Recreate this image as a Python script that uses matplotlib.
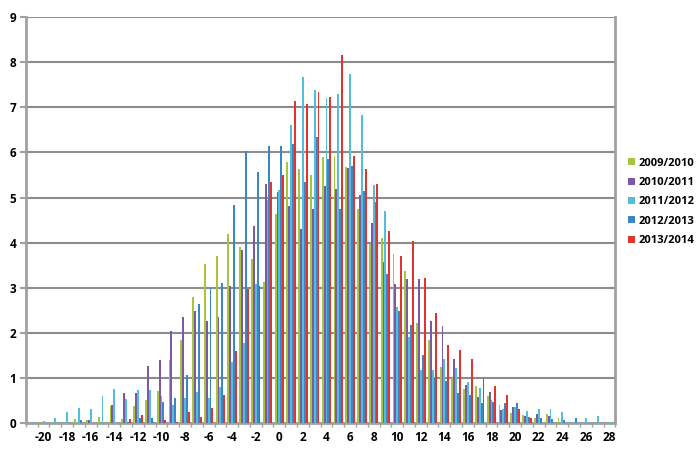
import matplotlib
matplotlib.use('Agg')
import matplotlib.pyplot as plt
import numpy as np

# categories -21 .. 28
cats = list(range(-21, 29))

# values, one list per season
s0910 = [0.0, 0.02, 0.02, 0.01, 0.08, 0.06, 0.14, 0.37, 0.08, 0.38, 0.51, 0.71, 1.4, 1.84, 2.79, 3.53,
         3.7, 4.18, 3.9, 3.64, 3.13, 4.63, 5.79, 5.64, 5.5, 5.9, 5.91, 5.68, 4.75, 3.96, 4.11, 3.74,
         3.36, 2.22, 1.83, 1.24, 0.99, 0.75, 0.81, 0.6, 0.41, 0.23, 0.18, 0.1, 0.21, 0.1, 0.0, 0.0, 0.0, 0.0]
s1011 = [0.0, 0.0, 0.0, 0.0, 0.0, 0.06, 0.0, 0.39, 0.66, 0.66, 1.26, 1.4, 2.04, 2.36, 2.49, 2.26,
         2.36, 3.04, 3.84, 4.37, 5.29, 5.12, 4.81, 4.31, 4.75, 5.25, 5.18, 5.65, 5.06, 4.43, 3.57, 3.09,
         3.2, 3.19, 2.26, 2.14, 1.43, 0.84, 0.58, 0.68, 0.29, 0.36, 0.16, 0.21, 0.16, 0.0, 0.0, 0.0, 0.0, 0.0]
s1112 = [0.03, 0.04, 0.12, 0.24, 0.33, 0.3, 0.59, 0.76, 0.53, 0.73, 0.73, 0.6, 0.4, 0.56, 0.69, 0.56,
         0.79, 1.36, 1.78, 3.09, 4.95, 5.16, 6.6, 7.68, 7.39, 7.21, 7.3, 7.73, 6.83, 5.27, 4.71, 2.58,
         1.91, 1.18, 1.18, 1.41, 1.21, 0.92, 0.78, 0.51, 0.3, 0.36, 0.27, 0.31, 0.3, 0.24, 0.03, 0.11, 0.16, 0.02]
s1213 = [0.0, 0.0, 0.0, 0.0, 0.07, 0.0, 0.0, 0.0, 0.03, 0.11, 0.12, 0.47, 0.55, 1.06, 2.64, 2.99,
         3.1, 4.83, 6.03, 5.57, 6.15, 6.15, 6.19, 5.35, 6.35, 5.86, 4.75, 5.69, 5.15, 4.89, 3.3, 2.48,
         2.18, 1.51, 0.99, 0.93, 0.66, 0.61, 0.44, 0.47, 0.44, 0.44, 0.14, 0.1, 0.08, 0.07, 0.12, 0.0, 0.0, 0.0]
s1314 = [0.0, 0.0, 0.0, 0.0, 0.0, 0.0, 0.0, 0.0, 0.09, 0.17, 0.03, 0.07, 0.02, 0.24, 0.14, 0.33,
         0.62, 1.6, 2.98, 3.03, 5.34, 5.49, 7.15, 7.08, 7.34, 7.23, 8.16, 5.93, 5.63, 5.29, 4.26, 3.71,
         4.03, 3.21, 2.45, 1.74, 1.62, 1.41, 0.98, 0.82, 0.61, 0.3, 0.1, 0.01, 0.0, 0.0, 0.0, 0.0, 0.0, 0.0]

series = [s0910, s1011, s1112, s1213, s1314]
labels = ['2009/2010', '2010/2011', '2011/2012', '2012/2013', '2013/2014']
colors = ['#A6C43C', '#7C58A6', '#52BEDB', '#3B86C5', '#E0352F']

plt.rcParams['font.family'] = ['Open Sans', 'DejaVu Sans']
plt.rcParams['axes.unicode_minus'] = False

fig = plt.figure(figsize=(7, 4.5), dpi=100)
ax = fig.add_axes([0.037, 0.06, 0.842, 0.902])

x = np.array(cats)
step = 0.16
for i, (vals, lab, col) in enumerate(zip(series, labels, colors)):
    ax.bar(x + (i - 2) * step, vals, width=step, color=col, label=lab, zorder=3, linewidth=0)

ax.set_xlim(-21.5, 28.5)
ax.set_ylim(0, 9)
ax.set_yticks(range(0, 10))
ax.set_xticks(range(-20, 29, 2))
ax.set_xticks(np.arange(-21.5, 29, 1), minor=True)

grid_col = '#8c8c8c'
ax.grid(axis='y', color=grid_col, linewidth=1.5, zorder=1)
for s in ['left', 'right', 'bottom']:
    ax.spines[s].set_color('#a0a0a0')
    ax.spines[s].set_linewidth(2)
ax.spines['top'].set_visible(False)

ax.tick_params(axis='x', which='major', length=0, pad=6, labelsize=8.5)
ax.tick_params(axis='x', which='minor', length=3, color='#a0a0a0', width=1)
ax.tick_params(axis='y', length=4, color='#a0a0a0', width=1.5, pad=3, labelsize=8.5)
for lbl in ax.get_xticklabels() + ax.get_yticklabels():
    lbl.set_fontweight('bold')

leg = ax.legend(loc='center left', bbox_to_anchor=(1.005, 0.545), frameon=False,
                fontsize=8, handlelength=0.6, handleheight=0.6, handletextpad=0.3,
                labelspacing=0.75)
for t in leg.get_texts():
    t.set_fontweight('bold')

fig.savefig('out.png', dpi=100)
